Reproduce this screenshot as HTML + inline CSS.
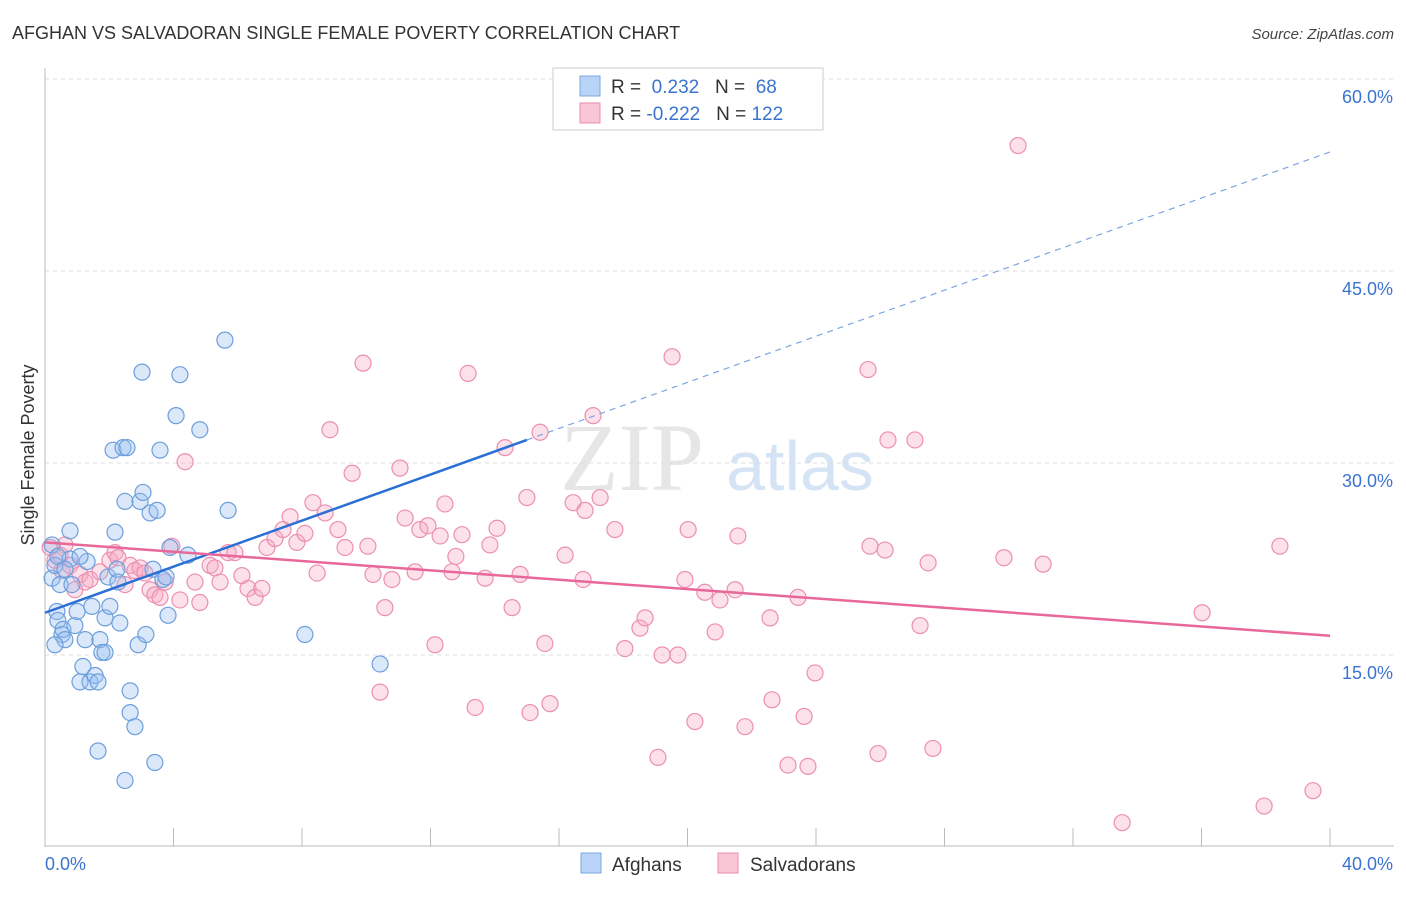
<!DOCTYPE html>
<html><head><meta charset="utf-8"><style>
body{margin:0;background:#fff;font-family:"Liberation Sans",sans-serif;}
</style></head><body>
<svg width="1406" height="892" xmlns="http://www.w3.org/2000/svg" id="c">
<text x="12" y="39" font-size="18" fill="#333">AFGHAN VS SALVADORAN SINGLE FEMALE POVERTY CORRELATION CHART</text>
<text x="1394" y="39" font-size="15" fill="#444" text-anchor="end" font-style="italic">Source: ZipAtlas.com</text>
<text x="632" y="490" font-size="96" fill="#e6e6e6" font-family="Liberation Serif,serif" text-anchor="middle">ZIP</text>
<text x="800" y="490" font-size="70" fill="#d5e4f5" text-anchor="middle">atlas</text>
<text x="34" y="455" font-size="18" fill="#333" text-anchor="middle" transform="rotate(-90 34 455)">Single Female Poverty</text>
<g id="grid"></g><g id="pts"></g><g id="trend"></g>
<g>
<rect x="553" y="68" width="270" height="62" fill="#fff" stroke="#ccc"/>
<rect x="580" y="76" width="20" height="20" fill="#b8d3f5" stroke="#7aa8e0"/>
<rect x="580" y="103" width="20" height="20" fill="#f9c6d6" stroke="#eb8fae"/>
<text x="611" y="93" font-size="19" fill="#333">R = <tspan fill="#3a74d0">&#160;0.232</tspan>&#160;&#160;&#160;N = <tspan fill="#3a74d0">&#160;68</tspan></text>
<text x="611" y="120" font-size="19" fill="#333">R = <tspan fill="#3a74d0">-0.222</tspan>&#160;&#160;&#160;N = <tspan fill="#3a74d0">122</tspan></text>
</g>
<g>
<rect x="581" y="853" width="20" height="20" fill="#b8d3f5" stroke="#7aa8e0"/>
<text x="612" y="871" font-size="19" fill="#333">Afghans</text>
<rect x="718" y="853" width="20" height="20" fill="#f9c6d6" stroke="#eb8fae"/>
<text x="750" y="871" font-size="19" fill="#333">Salvadorans</text>
</g>
</svg>
<script>
const yTicks=[15,30,45,60];
const xTickLabels=["0.0%","40.0%"];
const afghanX=[0.22,0.22,0.31,0.37,0.40,0.47,0.53,0.56,0.62,0.31,0.78,0.78,0.84,0.93,1.00,1.09,1.18,1.25,1.31,1.40,1.46,1.56,1.65,1.65,1.71,1.77,1.87,1.87,1.96,2.02,2.12,2.18,2.24,2.27,2.33,2.43,2.49,2.55,2.65,2.65,2.80,2.90,2.96,3.02,3.05,3.14,3.27,3.36,3.42,3.49,3.58,3.67,3.77,3.83,3.89,4.08,4.20,4.45,4.82,5.60,5.70,8.09,10.43,2.49,1.09,0.40,0.62];
const afghanY=[23.6,21.0,22.0,18.4,17.7,20.5,16.6,17.0,16.2,15.8,24.7,22.5,20.5,17.3,18.4,12.9,14.1,16.2,22.3,12.9,18.8,13.4,12.9,7.5,16.2,15.2,17.9,15.2,21.1,18.8,31.0,24.6,21.7,20.7,17.5,31.2,27.0,31.2,12.2,10.5,9.4,15.8,27.0,37.1,27.7,16.6,26.1,21.7,6.6,26.3,31.0,20.9,21.1,18.1,23.4,33.7,36.9,22.8,32.6,39.6,26.3,16.6,14.3,5.2,22.7,22.7,21.7];
const salvX=[0.16,0.31,0.47,0.53,0.62,0.78,0.93,1.09,1.25,1.40,1.71,2.02,2.18,2.27,2.49,2.65,2.80,2.96,3.11,3.27,3.42,3.58,3.74,3.95,4.20,4.36,4.67,4.82,5.14,5.29,5.45,5.70,5.91,6.13,6.32,6.54,6.75,6.91,7.16,7.41,7.63,7.84,8.09,8.34,8.47,8.72,8.87,9.12,9.34,9.56,9.90,10.05,10.21,10.43,10.58,10.80,11.05,11.21,11.52,11.67,11.92,12.14,12.30,12.45,12.67,12.79,12.98,13.17,13.39,13.70,13.85,14.07,14.32,14.54,14.79,15.00,15.10,15.41,15.56,15.72,16.19,16.44,16.75,16.81,17.06,17.28,17.74,18.05,18.52,18.68,19.08,19.21,19.52,19.70,19.92,20.02,20.23,20.54,20.86,21.01,21.48,21.57,21.79,22.57,22.63,23.13,23.44,23.63,23.75,23.97,25.62,25.68,25.93,26.15,26.24,27.08,27.24,27.49,27.64,29.85,30.29,31.07,33.53,36.02,37.95,38.44,39.47];
const salvY=[23.4,22.4,22.8,21.6,23.6,22.0,20.1,21.3,20.7,20.9,21.5,22.4,23.0,22.6,20.5,22.0,21.6,21.8,21.4,20.1,19.7,19.5,20.7,23.5,19.3,30.1,20.7,19.1,22.0,21.8,20.7,23.0,23.0,21.2,20.2,19.5,20.2,23.4,24.1,24.8,25.8,23.8,24.5,26.9,21.4,26.1,32.6,24.8,23.4,29.2,37.8,23.5,21.3,12.1,18.7,20.9,29.6,25.7,21.5,24.8,25.1,15.8,24.3,26.8,21.5,22.7,24.4,37.0,10.9,21.0,23.6,24.9,31.2,18.7,21.3,27.3,10.5,32.4,15.9,11.2,22.8,26.9,20.9,26.3,33.7,27.3,24.8,15.5,17.1,17.9,7.0,15.0,38.3,15.0,20.9,24.8,9.8,19.9,16.8,19.3,20.1,24.3,9.4,17.9,11.5,6.4,19.5,10.2,6.3,13.6,37.3,23.5,7.3,23.2,31.8,31.8,17.3,22.2,7.7,22.6,54.8,22.1,1.9,18.3,3.2,23.5,4.4];
const W0=45,W1=1330,Y0=847,Yk=12.8;
const sx=v=>W0+(v/40)*(W1-W0), sy=v=>Y0-v*Yk;
const NS="http://www.w3.org/2000/svg";
function mk(t,a,p){const e=document.createElementNS(NS,t);for(const k in a)e.setAttribute(k,a[k]);document.getElementById(p).appendChild(e);return e;}
const grid='grid';
yTicks.forEach(t=>{
 const l=mk('line',{x1:45,x2:1394,y1:sy(t),y2:sy(t),stroke:'#ddd','stroke-dasharray':'4,4'},grid);
 
 
 const tx=mk('text',{x:1393,y:sy(t)+24,'font-size':18,fill:'#3a74d0','text-anchor':'end'},grid);
 tx.textContent=t.toFixed(1)+'%';
 
 
});
let ax=mk('line',{x1:45,x2:45,y1:68,y2:847,stroke:'#bbb'},grid);


ax=mk('line',{x1:45,x2:1394,y1:846,y2:846,stroke:'#bbb'},grid);


for(let i=1;i<=10;i++){const t=mk('line',{x1:sx(i*4),x2:sx(i*4),y1:828,y2:846,stroke:'#bbb'},grid);
 
 }
[[0,45,'start'],[1,1393,'end']].forEach(([i,x,a])=>{const t=mk('text',{x:x,y:870,'font-size':18,fill:'#3a74d0','text-anchor':a},grid);t.textContent=xTickLabels[i];
 
 });
salvX.forEach((x,i)=>{const c=mk('circle',{cx:sx(x),cy:sy(salvY[i]),r:8,fill:'rgba(246,170,195,0.35)',stroke:'#ec8fae','stroke-width':1.2},'pts');
 
 });
afghanX.forEach((x,i)=>{const c=mk('circle',{cx:sx(x),cy:sy(afghanY[i]),r:8,fill:'rgba(150,190,240,0.35)',stroke:'#6d9fdc','stroke-width':1.2},'pts');
 
 });
const bx0=0,by0=18.3,bxs=15,bys=31.8,bxe=40,bye=54.3;
let l=mk('line',{x1:sx(bx0),y1:sy(by0),x2:sx(bxs),y2:sy(bys),stroke:'#2a6fd6','stroke-width':2.5},'trend');


l=mk('line',{x1:sx(bxs),y1:sy(bys),x2:sx(bxe),y2:sy(bye),stroke:'#7aa6e0','stroke-width':1.2,'stroke-dasharray':'6,5'},'trend');


l=mk('line',{x1:sx(0),y1:sy(23.8),x2:sx(40),y2:sy(16.5),stroke:'#e8689a','stroke-width':2.5},'trend');


</script>
</body></html>
